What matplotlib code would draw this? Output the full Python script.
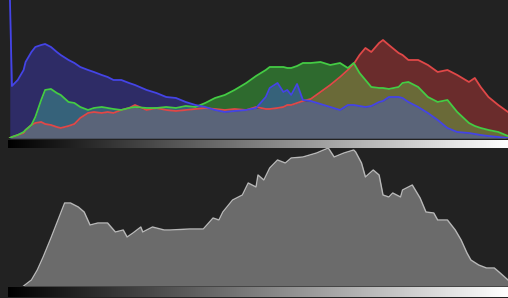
import numpy as np
import matplotlib
matplotlib.use("Agg")
import matplotlib.pyplot as plt

# RGB histogram (top panel), heights
levels = [0, 1, 4, 7, 8, 11, 13, 16, 18, 21, 24, 26, 30, 33, 36, 40, 43, 47, 50, 53,
          57, 61, 64, 70, 75, 80, 85, 90, 95, 100, 105, 110, 115, 121, 126, 131, 133, 137, 140, 142,
          144, 147, 150, 154, 159, 164, 169, 173, 176, 179, 182, 185, 189, 191, 194, 199, 201, 204, 209, 214,
          219, 224, 229, 235, 238, 241, 245, 250, 255]
blue = [138, 52, 58, 68, 76, 86, 91, 93, 94, 91, 86, 83, 78, 75, 71, 68, 66, 63, 61, 58,
        58, 55, 53, 48, 45, 41, 40, 36, 33, 31, 28, 26, 27, 28, 30, 41, 50, 55, 46, 48,
        43, 54, 38, 37, 34, 31, 28, 33, 33, 32, 31, 32, 36, 37, 41, 41, 40, 36, 31, 25,
        18, 10, 6, 5, 4, 3, 2, 1, 0]
green = [0, 1, 3, 6, 8, 13, 21, 38, 48, 49, 45, 43, 36, 35, 31, 28, 30, 31, 30, 29,
         28, 30, 31, 30, 30, 31, 30, 32, 31, 35, 40, 43, 48, 55, 62, 68, 71, 71, 71, 70,
         70, 72, 75, 75, 76, 73, 75, 70, 75, 65, 58, 51, 50, 50, 49, 51, 55, 56, 51, 41,
         36, 38, 26, 15, 12, 10, 8, 6, 2]
red = [0, 1, 3, 5, 8, 13, 15, 16, 14, 13, 11, 10, 12, 14, 20, 25, 26, 25, 26, 25,
       28, 30, 33, 28, 30, 28, 27, 28, 29, 30, 29, 28, 29, 28, 31, 29, 29, 30, 31, 33,
       33, 35, 37, 39, 46, 53, 61, 68, 74, 83, 90, 86, 95, 98, 93, 85, 83, 78, 78, 73,
       66, 68, 63, 56, 60, 51, 41, 33, 26]

# luminance histogram (bottom panel)
lum_levels = [7, 11, 14, 17, 21, 24, 25, 28, 31, 35, 38, 41, 45, 50, 54, 58, 60, 63, 67, 68,
              73, 79, 82, 92, 99, 104, 107, 109, 114, 119, 122, 126, 127, 130, 133, 137, 141, 144, 150, 157,
              163, 166, 171, 176, 177, 180, 182, 186, 189, 191, 194, 196, 200, 201, 206, 210, 213, 217, 219, 224,
              228, 231, 234, 236, 240, 244, 248, 251, 255]
lum = [0, 6, 16, 29, 48, 63, 68, 83, 83, 79, 74, 61, 63, 63, 54, 56, 49, 53, 59, 54,
       59, 56, 56, 57, 57, 68, 66, 74, 86, 91, 103, 99, 111, 106, 118, 126, 123, 128, 129, 133,
       138, 129, 133, 136, 134, 123, 109, 116, 111, 91, 89, 93, 89, 96, 101, 88, 74, 73, 66, 66,
       56, 46, 33, 26, 21, 18, 18, 13, 6]

bg = "#222222"
fig = plt.figure(figsize=(5.08, 2.98), dpi=100, facecolor=bg)

W, H = 508.0, 298.0
def box(x0, y0, x1, y1):
    return [x0 / W, 1 - y1 / H, (x1 - x0) / W, (y1 - y0) / H]

x = np.array(levels, float)
r = np.array(red, float)
g = np.array(green, float)
b = np.array(blue, float)

ax = fig.add_axes(box(8, 0, 508, 138))
ax.set_facecolor(bg)
kw = dict(interpolate=True, linewidth=0.3)

def region(lo, hi, c):
    ax.fill_between(x, lo, hi, where=hi > lo, color=c, ec=c, **kw)

region(np.zeros_like(x), np.minimum(np.minimum(r, g), b), "#5a6479")
region(b, np.minimum(r, g), "#6a6a38")
region(r, np.minimum(g, b), "#36627a")
region(g, np.minimum(r, b), "#5e3a6a")
region(np.maximum(g, b), r, "#6a2c2c")
region(np.maximum(r, b), g, "#2e6a2e")
region(np.maximum(r, g), b, "#2e2c66")

ax.plot(x, r, color="#e04848", lw=1.3)
ax.plot(x, g, color="#44cc44", lw=1.3)
ax.plot(x, b, color="#4444e6", lw=1.3)
ax.set_xlim(-1, 255)
ax.set_ylim(0, 138)
ax.axis("off")

grad = np.linspace(0, 1, 256).reshape(1, -1)
for y0, y1 in [(140, 148), (287, 297)]:
    gax = fig.add_axes(box(8, y0, 508, y1))
    gax.imshow(grad, cmap="gray", aspect="auto", extent=(-1, 255, 0, 1))
    gax.axis("off")

ax2 = fig.add_axes(box(8, 148, 508, 286))
ax2.set_facecolor(bg)
ax2.fill_between(lum_levels, 0, lum, color="#6b6b6b", lw=0)
ax2.plot(lum_levels, lum, color="#b8b8b8", lw=1.0)
ax2.set_xlim(-1, 255)
ax2.set_ylim(0, 138)
ax2.axis("off")

fig.savefig("out.png", dpi=100, facecolor=bg)
